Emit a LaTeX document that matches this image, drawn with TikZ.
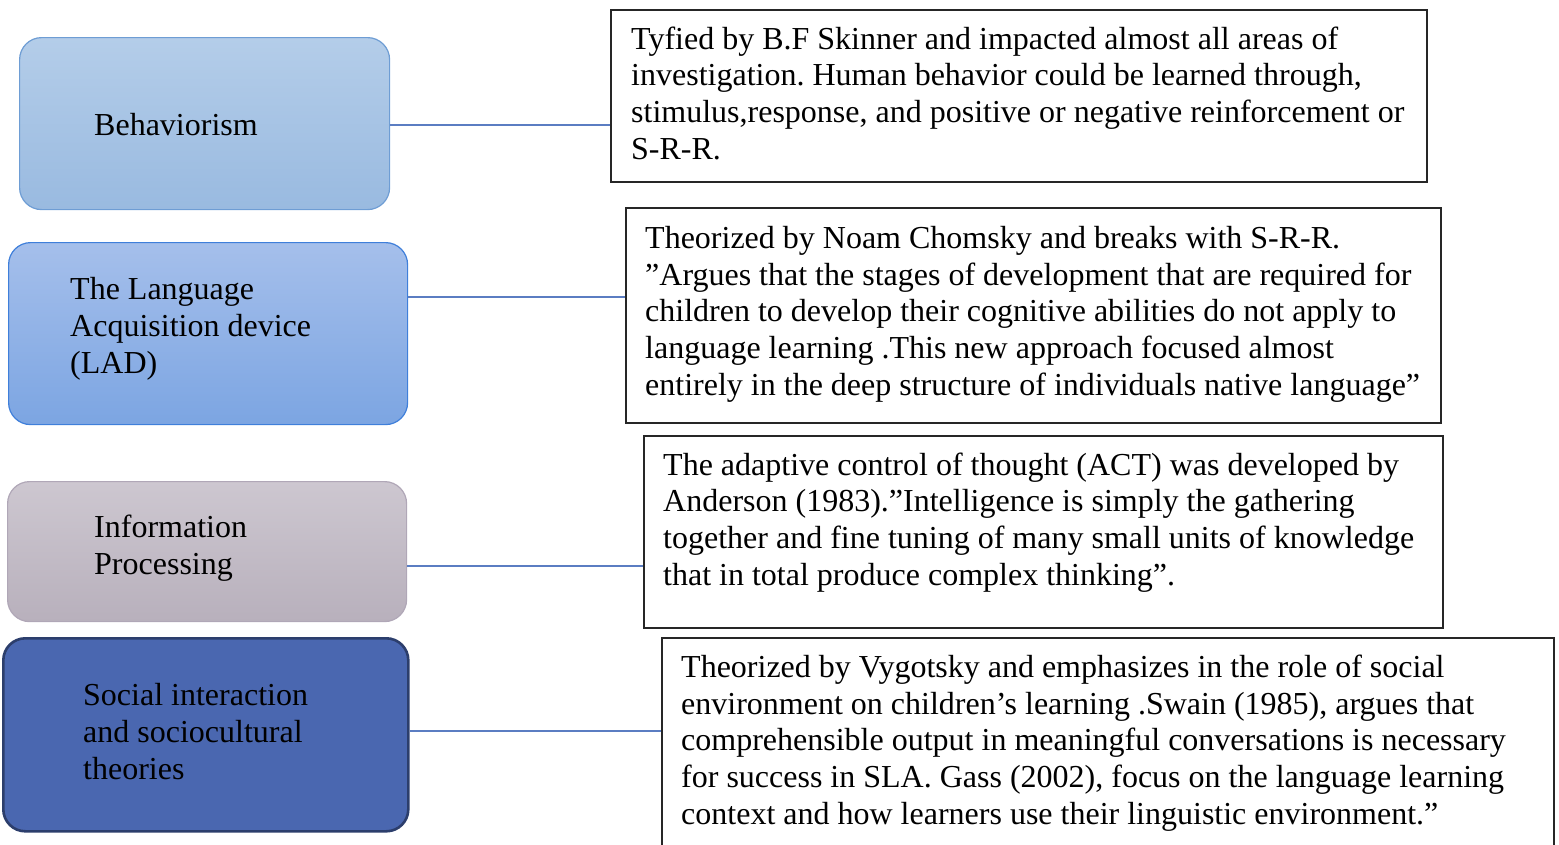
\documentclass[tikz,border=0pt]{standalone}
\usepackage{fontspec}
\setmainfont{Liberation Serif}
\frenchspacing
\definecolor{bAt}{HTML}{B4CDE9}
\definecolor{bAb}{HTML}{99BAE0}
\definecolor{bAd}{HTML}{6E9DD4}
\definecolor{bBt}{HTML}{A5BFEB}
\definecolor{bBb}{HTML}{7CA5E2}
\definecolor{bBd}{HTML}{3F7FDA}
\definecolor{bCt}{HTML}{CDC7D0}
\definecolor{bCb}{HTML}{B8B0BC}
\definecolor{bCd}{HTML}{B0A7B7}
\definecolor{bDf}{HTML}{4A67B0}
\definecolor{bDd}{HTML}{2C3E6C}
\definecolor{cblue}{HTML}{5B7DC2}
\begin{document}
\begin{tikzpicture}[x=1pt,y=-1pt,
  lbox/.style={rounded corners=22pt, line width=1.2pt, anchor=north west, inner sep=0pt},
  rbox/.style={draw=black!85, line width=1.5pt, fill=white, anchor=north west, inner sep=0pt},
  txt/.style={anchor=base west, align=left, inner sep=0pt, font=\fontsize{32}{36.8}\selectfont\frenchspacing, text=black},
  conn/.style={draw=cblue, line width=1.2pt}]
\useasboundingbox (0,0) rectangle (1559,844);
\clip (0,0) rectangle (1559,844);
% left boxes
\node[lbox, draw=bAd, top color=bAt, bottom color=bAb, minimum width=370pt, minimum height=172pt] (b1) at (19,37) {};
\node[lbox, draw=bBd, top color=bBt, bottom color=bBb, minimum width=399pt, minimum height=182pt] (b2) at (8,242) {};
\node[lbox, draw=bCd, top color=bCt, bottom color=bCb, minimum width=399pt, minimum height=140pt] (b3) at (7,481) {};
\node[lbox, draw=bDd, fill=bDf, line width=2.6pt, minimum width=405pt, minimum height=193pt] (b4) at (2,637) {};
% right boxes
\node[rbox, minimum width=816pt, minimum height=172pt] (r1) at (610,9) {};
\node[rbox, minimum width=815pt, minimum height=215pt] (r2) at (625,207) {};
\node[rbox, minimum width=799pt, minimum height=192pt] (r3) at (643,435) {};
\node[rbox, minimum width=892pt, minimum height=230pt] (r4) at (661,637) {};
% texts (anchored at the baseline of their last line)
\node[txt] (t1) at (94,135) {Behaviorism};
\node[txt] (t2) at (70,373) {The Language\\Acquisition device\\(LAD)};
\node[txt] (t3) at (94,574) {Information\\Processing};
\node[txt] (t4) at (83,779) {Social interaction\\and sociocultural\\theories};
\node[txt] (s1) at (631,159.5) {Tyfied by B.F Skinner and impacted almost all areas of\\investigation. Human behavior could be learned through,\\stimulus,response, and positive or negative reinforcement or\\S-R-R.};
\node[txt] (s2) at (645,395.5) {Theorized by Noam Chomsky and breaks with S-R-R.\\”Argues that the stages of development that are required for\\children to develop their cognitive abilities do not apply to\\language learning .This new approach focused almost\\entirely in the deep structure of individuals native language”};
\node[txt] (s3) at (663,585.5) {The adaptive control of thought (ACT) was developed by\\Anderson (1983).”Intelligence is simply the gathering\\together and fine tuning of many small units of knowledge\\that in total produce complex thinking”.};
\node[txt] (s4) at (681,824.5) {Theorized by Vygotsky and emphasizes in the role of social\\environment on children’s learning .Swain (1985), argues that\\comprehensible output in meaningful conversations is necessary\\for success in SLA. Gass (2002), focus on the language learning\\context and how learners use their linguistic environment.”};
% connectors
\coordinate (y1) at (0,125);
\coordinate (y2) at (0,297);
\coordinate (y3) at (0,566);
\coordinate (y4) at (0,731);
\draw[conn] (b1.east |- y1) -- (r1.west |- y1);
\draw[conn] (b2.east |- y2) -- (r2.west |- y2);
\draw[conn] (b3.east |- y3) -- (r3.west |- y3);
\draw[conn] (b4.east |- y4) -- (r4.west |- y4);
\end{tikzpicture}
\end{document}
